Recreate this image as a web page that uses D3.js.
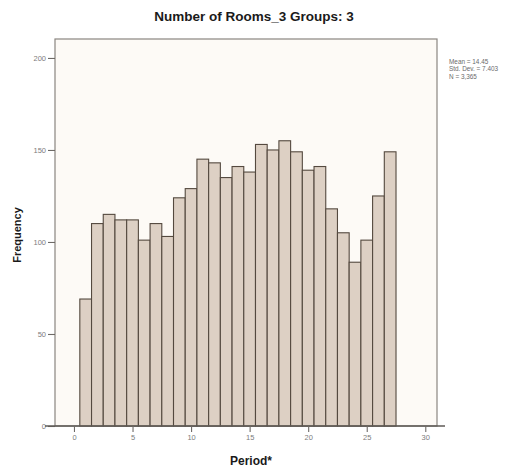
<!DOCTYPE html>
<html>
<head>
<meta charset="utf-8">
<script src="https://cdn.jsdelivr.net/npm/d3@7/dist/d3.min.js"></script>
<style>
  html, body { margin: 0; padding: 0; background: #ffffff; }
  svg { display: block; font-family: "Liberation Sans", Arial, sans-serif; }
</style>
</head>
<body>
<svg id="chart" width="532" height="472"></svg>
<script>
// Histogram of Period for Number of Rooms group 3
const periods = [1, 2, 3, 4, 5, 6, 7, 8, 9, 10, 11, 12, 13, 14, 15, 16, 17, 18, 19, 20, 21, 22, 23, 24, 25, 26, 27];
const frequencies = [69, 110, 115, 112, 112, 101, 110, 103, 124, 129, 145, 143, 135, 141, 138, 153, 150, 155, 149, 139, 141, 118, 105, 89, 101, 125, 149];
const xTicks = [0, 5, 10, 15, 20, 25, 30];
const yTicks = [0, 50, 100, 150, 200];
const statLines = ["Mean = 14.45", "Std. Dev. = 7.403", "N = 3,365"];
const titleText = "Number of Rooms_3 Groups: 3";
const xLabel = "Period*";
const yLabel = "Frequency";

const svg = d3.select("#chart");
const plot = { left: 55, right: 437, top: 39, bottom: 426 };

const x = d3.scaleLinear().domain([-1.62, 31.0]).range([plot.left, plot.right]);
const y = d3.scaleLinear().domain([0, 210.3]).range([plot.bottom, plot.top]);

// plot background and frame
svg.append("rect")
  .attr("x", plot.left).attr("y", plot.top)
  .attr("width", plot.right - plot.left).attr("height", plot.bottom - plot.top)
  .attr("fill", "#fdfaf6").attr("stroke", "#8a8580").attr("stroke-width", 1.2);

// bars
svg.append("g").selectAll("rect")
  .data(periods.map((p, i) => ({ p, f: frequencies[i] })))
  .join("rect")
  .attr("x", d => x(d.p - 0.5))
  .attr("y", d => y(d.f))
  .attr("width", d => x(d.p + 0.5) - x(d.p - 0.5))
  .attr("height", d => y(0) - y(d.f))
  .attr("fill", "#ddd0c4")
  .attr("stroke", "#54493f")
  .attr("stroke-width", 1.1);

// y axis
const yAxis = d3.axisLeft(y).tickValues(yTicks).tickSize(7).tickPadding(2).tickFormat(d3.format("d"));
const gy = svg.append("g").attr("transform", `translate(${plot.left},0)`).call(yAxis);
gy.select(".domain").remove();
gy.selectAll("line").attr("stroke", "#6e6a66").attr("stroke-width", 1.1);
gy.selectAll("text").attr("fill", "#7c7c7c").attr("font-size", 7.5);

// x axis
const xAxis = d3.axisBottom(x).tickValues(xTicks).tickSize(6).tickPadding(3).tickFormat(d3.format("d"));
const gx = svg.append("g").attr("transform", `translate(0,${plot.bottom})`).call(xAxis);
gx.select(".domain").attr("d", `M${plot.left - 10},0H${plot.right + 8}`).attr("stroke", "#5e5a56").attr("stroke-width", 1.4);
gx.selectAll("line").attr("stroke", "#6e6a66").attr("stroke-width", 1.1);
gx.selectAll("text").attr("fill", "#7c7c7c").attr("font-size", 7.5);

// title
svg.append("text")
  .attr("x", 254).attr("y", 21)
  .attr("text-anchor", "middle")
  .attr("font-size", 13.5).attr("font-weight", "bold").attr("fill", "#1a1a1a")
  .text(titleText);

// axis titles
svg.append("text")
  .attr("x", 251).attr("y", 465)
  .attr("text-anchor", "middle")
  .attr("font-size", 12).attr("font-weight", "bold").attr("fill", "#1a1a1a")
  .text(xLabel);

svg.append("text")
  .attr("transform", "translate(21,235) rotate(-90)")
  .attr("text-anchor", "middle")
  .attr("font-size", 11).attr("font-weight", "bold").attr("fill", "#1a1a1a")
  .text(yLabel);

// summary statistics
svg.append("g").selectAll("text")
  .data(statLines)
  .join("text")
  .attr("x", 449)
  .attr("y", (d, i) => 64 + i * 7.4)
  .attr("font-size", 6.4).attr("fill", "#6a6a6a")
  .text(d => d);
</script>
</body>
</html>
